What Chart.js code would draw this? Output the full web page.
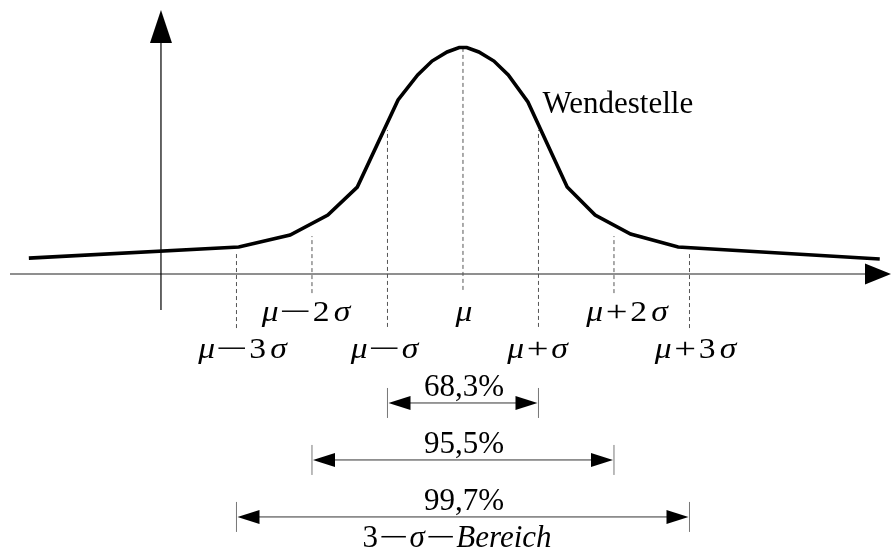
<!DOCTYPE html>
<html>
<head>
<meta charset="utf-8">
<script src="https://cdn.jsdelivr.net/npm/chart.js@4/dist/chart.umd.min.js"></script>
<style>
  html, body { margin: 0; padding: 0; background: #fff; }
  canvas { display: block; }
</style>
</head>
<body>
<canvas id="c" width="891" height="551"></canvas>
<script>
// Bell curve, drawn as a polyline (x in units of sigma around mu, y relative to the peak)
const curveX = [-5.75, -2.97, -2.29, -1.79, -1.40, -0.86, -0.60, -0.41, -0.21, -0.05,
                 0.05, 0.21, 0.41, 0.60, 0.86, 1.38, 1.75, 2.22, 2.85, 5.52];
const curveY = [0.070, 0.119, 0.172, 0.260, 0.383, 0.767, 0.877, 0.938, 0.978, 0.998,
                0.998, 0.978, 0.938, 0.877, 0.758, 0.383, 0.260, 0.176, 0.119, 0.066];

// Dashed guides at mu + k*sigma
const sigmaSteps  = [-3, -2, -1, 0, 1, 2, 3];
const sigmaLabels = ['μ−3σ', 'μ−2σ', 'μ−σ', 'μ', 'μ+σ', 'μ+2σ', 'μ+3σ'];
const guideTop    = [0.088, 0.167, 0.634, 0.996, 0.634, 0.167, 0.088];
const guideBottom = [-0.238, -0.084, -0.233, -0.070, -0.233, -0.084, -0.238];

// Coverage ranges mu ± k*sigma
const rangeHalfWidths = [1, 2, 3];
const rangeLabels     = ['68,3%', '95,5%', '99,7%'];
const rangeCaption    = '3−σ−Bereich';
const inflectionLabel = 'Wendestelle';

const SERIF = '"Liberation Serif", "Times New Roman", serif';

// Draw a formula: greek and latin letters italic, digits and operators upright,
// with widened operator signs
function drawFormula(ctx, text, cx, baseline, size, sx) {
  const runs = [];
  for (const ch of text) {
    const italic = /[A-Za-zμσ]/.test(ch);
    const last = runs[runs.length - 1];
    if (last && last.italic && italic) { last.text += ch; }
    else runs.push({ text: ch, italic });
  }
  let total = 0;
  runs.forEach((r, i) => {
    ctx.font = (r.italic ? 'italic ' : '') + size + 'px ' + SERIF;
    const op = r.text === '−' || r.text === '+';
    const prevOp = i > 0 && (runs[i - 1].text === '−' || runs[i - 1].text === '+');
    r.k = r.text === '−' ? 1.7 : (r.text === '+' ? 1.15 : 1);
    r.w = ctx.measureText(r.text).width * r.k;
    r.gap = (i > 0 && /[0-9]/.test(runs[i - 1].text) && r.italic) ? size * 0.12 : 0;
    if (op || prevOp) r.gap += r.text === '+' || (prevOp && runs[i - 1].text === '+') ? size * 0.08 : size * 0.03;
    total += r.w + r.gap;
  });
  ctx.save();
  ctx.translate(cx - total * sx / 2, baseline);
  ctx.scale(sx, 1);
  ctx.fillStyle = '#000';
  ctx.textBaseline = 'alphabetic';
  ctx.textAlign = 'left';
  let x = 0;
  runs.forEach(r => {
    x += r.gap;
    ctx.font = (r.italic ? 'italic ' : '') + size + 'px ' + SERIF;
    ctx.save();
    ctx.translate(x, 0);
    ctx.scale(r.k, 1);
    ctx.fillText(r.text, 0, 0);
    ctx.restore();
    x += r.w;
  });
  ctx.restore();
}

function triangle(ctx, ax, ay, bx, by, cx, cy) {
  ctx.beginPath();
  ctx.moveTo(ax, ay); ctx.lineTo(bx, by); ctx.lineTo(cx, cy);
  ctx.closePath();
  ctx.fill();
}

const axesPlugin = {
  id: 'bellAxes',
  beforeDatasetsDraw(chart, args, opts) {
    const ctx = chart.ctx, xs = chart.scales.x, ys = chart.scales.y;
    const y0 = ys.getPixelForValue(0);
    const xTip = xs.getPixelForValue(xs.max);
    ctx.save();
    // horizontal axis with arrow
    ctx.strokeStyle = '#6a6a6a';
    ctx.lineWidth = 1.6;
    ctx.beginPath();
    ctx.moveTo(xs.getPixelForValue(opts.xAxisFrom), y0);
    ctx.lineTo(xTip - 20, y0);
    ctx.stroke();
    ctx.fillStyle = '#000';
    triangle(ctx, xTip, y0, xTip - 26, y0 - 10.5, xTip - 26, y0 + 10.5);
    // vertical axis with arrow
    const ax = xs.getPixelForValue(opts.yAxisAt);
    const yTip = ys.getPixelForValue(opts.yAxisTo);
    ctx.strokeStyle = '#000';
    ctx.lineWidth = 1.2;
    ctx.beginPath();
    ctx.moveTo(ax, ys.getPixelForValue(opts.yAxisFrom));
    ctx.lineTo(ax, yTip + 30);
    ctx.stroke();
    triangle(ctx, ax, yTip, ax - 11, yTip + 33, ax + 11, yTip + 33);
    ctx.restore();
  },
  afterDatasetsDraw(chart, args, opts) {
    const ctx = chart.ctx, xs = chart.scales.x, ys = chart.scales.y;
    const y0 = ys.getPixelForValue(0);

    // mu ± k sigma labels in two staggered rows
    sigmaSteps.forEach((k, i) => {
      const row = Math.abs(k) % 2 === 0 ? 0 : 1;
      const base = y0 + opts.labelRows[row];
      drawFormula(ctx, sigmaLabels[i], xs.getPixelForValue(k) + opts.labelNudge[i],
                  base, opts.formulaSize, opts.formulaStretch);
    });

    // inflection point note
    ctx.save();
    ctx.fillStyle = '#000';
    ctx.font = opts.textSize + 'px ' + SERIF;
    ctx.textAlign = 'left';
    ctx.textBaseline = 'alphabetic';
    ctx.fillText(inflectionLabel, xs.getPixelForValue(1) + 4, ys.getPixelForValue(opts.noteAt));
    ctx.restore();

    // coverage brackets
    const mid = xs.getPixelForValue(0);
    rangeHalfWidths.forEach((k, i) => {
      const y = ys.getPixelForValue(opts.rangeRows[i]);
      const l = xs.getPixelForValue(-k), r = xs.getPixelForValue(k);
      ctx.save();
      ctx.strokeStyle = '#777';
      ctx.lineWidth = 1;
      ctx.beginPath();
      ctx.moveTo(l, y - 15); ctx.lineTo(l, y + 15);
      ctx.moveTo(r, y - 15); ctx.lineTo(r, y + 15);
      ctx.stroke();
      ctx.strokeStyle = '#333';
      ctx.beginPath();
      ctx.moveTo(l + 10, y); ctx.lineTo(r - 10, y);
      ctx.stroke();
      ctx.fillStyle = '#000';
      triangle(ctx, l + 1, y, l + 23, y - 7, l + 23, y + 7);
      triangle(ctx, r - 1, y, r - 23, y - 7, r - 23, y + 7);
      ctx.translate(mid + 1, y - 7);
      ctx.scale(opts.percentStretch, 1);
      ctx.font = opts.percentSize + 'px ' + SERIF;
      ctx.textAlign = 'center';
      ctx.textBaseline = 'alphabetic';
      ctx.fillText(rangeLabels[i], 0, 0);
      ctx.restore();
    });
    const lastY = ys.getPixelForValue(opts.rangeRows[opts.rangeRows.length - 1]);
    drawFormula(ctx, rangeCaption, mid - 6, lastY + 30, opts.percentSize, 1.0);
  }
};

const guideSets = sigmaSteps.map((k, i) => ({
  data: [{ x: k, y: guideBottom[i] }, { x: k, y: guideTop[i] }],
  showLine: true,
  borderColor: '#555',
  borderWidth: 1,
  borderDash: [4, 3],
  pointRadius: 0,
  order: 2
}));

new Chart(document.getElementById('c'), {
  type: 'scatter',
  data: {
    datasets: [
      {
        data: curveX.map((x, i) => ({ x, y: curveY[i] })),
        showLine: true,
        borderColor: '#000',
        borderWidth: 3.6,
        borderJoinStyle: 'miter',
        pointRadius: 0,
        tension: 0,
        order: 1
      },
      ...guideSets
    ]
  },
  options: {
    responsive: false,
    animation: false,
    events: [],
    layout: { padding: 0 },
    scales: {
      x: { type: 'linear', min: -6.132, max: 5.669, display: false },
      y: { type: 'linear', min: -1.220, max: 1.207, display: false }
    },
    plugins: {
      legend: { display: false },
      tooltip: { enabled: false },
      bellAxes: {
        xAxisFrom: -6.0,
        yAxisAt: -4.0,
        yAxisFrom: -0.159,
        yAxisTo: 1.163,
        labelRows: [47, 84],
        labelNudge: [6, -6, -3, 1, -1, 13, 6],
        formulaSize: 30,
        formulaStretch: 1.12,
        textSize: 31,
        percentSize: 31,
        percentStretch: 1.0,
        noteAt: 0.709,
        rangeRows: [-0.568, -0.819, -1.070]
      }
    }
  },
  plugins: [axesPlugin]
});
</script>
</body>
</html>
